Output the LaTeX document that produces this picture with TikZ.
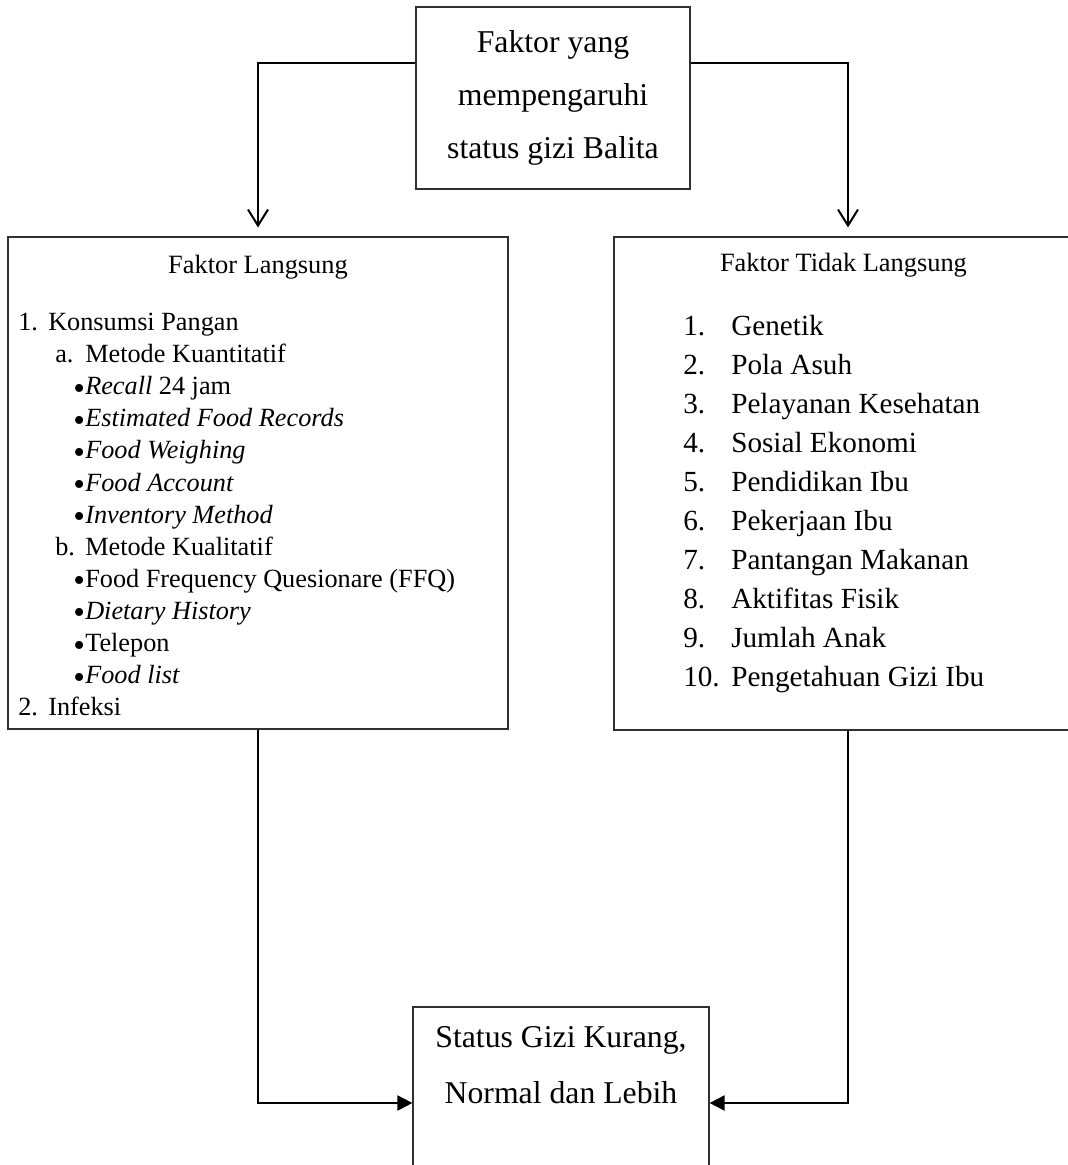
\documentclass[tikz,border=0pt]{standalone}
\usepackage{fontspec}
\setmainfont{Liberation Serif}
\usepackage{tikz}
\usetikzlibrary{arrows.meta,positioning}
\definecolor{GiziInk}{HTML}{000000}
\definecolor{GiziRule}{HTML}{303030}
\newcommand{\bulat}{\makebox[9pt][l]{\raisebox{-3.4pt}[0pt][0pt]{\fontsize{25}{25}\selectfont\textbullet}}}

\begin{document}
\begin{tikzpicture}[x=0.75pt,y=-0.75pt]
    \tikzset{
      kotak/.style={draw=GiziRule, line width=.9pt, inner sep=0pt},
      judul/.style={anchor=base, font=\fontsize{19.8}{24}\selectfont, text=GiziInk},
      isi/.style={anchor=base west, inner sep=0pt, font=\fontsize{19.7}{24}\selectfont, text=GiziInk},
      butir/.style={anchor=base west, inner sep=0pt, font=\fontsize{21.9}{26}\selectfont, text=GiziInk},
      garis/.style={draw=GiziInk, line width=1.5pt},
      turun/.style={garis, -{Straight Barb[length=12pt,width=15pt]}, shorten >=6.75pt},
      masuk/.style={garis, -{Triangle[length=11.25pt,width=11.25pt]}}
    }
    \useasboundingbox (0,0) rectangle (1068,1165);
    % kotak utama
    \node[kotak, minimum width=205.5pt, minimum height=136.5pt, align=center,
      font=\fontsize{23.8}{40}\selectfont] (faktor) at (553,98)
      {Faktor yang\\mempengaruhi\\status gizi Balita};
    \node[kotak, minimum width=375pt, minimum height=369pt] (langsung) at (258,483) {};
    \node[kotak, minimum width=351pt, minimum height=369.75pt] (tidaklangsung) at (848,483.5) {};
    \node[kotak, minimum width=222pt, minimum height=144pt] (status) at (561,1103) {};
    % judul
    \node[judul] (jl) at (258,273.5) {Faktor Langsung};
    \node[judul] (jtl) at (843.5,271.5) {Faktor Tidak Langsung};
    % isi faktor langsung
    \foreach \px/\t [count=\i from 0] in {
        18/{\makebox[22.5pt][l]{1.}Konsumsi Pangan},
        55/{\makebox[22.5pt][l]{a.}Metode Kuantitatif},
        73/{\bulat\textit{Recall} 24 jam},
        73/{\bulat\textit{Estimated Food Records}},
        73/{\bulat\textit{Food Weighing}},
        73/{\bulat\textit{Food Account}},
        73/{\bulat\textit{Inventory Method}},
        55/{\makebox[22.5pt][l]{b.}Metode Kualitatif},
        73/{\bulat Food Frequency Quesionare (FFQ)},
        73/{\bulat\textit{Dietary History}},
        73/{\bulat Telepon},
        73/{\bulat\textit{Food list}},
        18/{\makebox[22.5pt][l]{2.}Infeksi}}
      \node[isi] (l\i) at (\px,330.5+32.1*\i) {\t};
    % isi faktor tidak langsung
    \foreach \t [count=\i] in {Genetik,Pola Asuh,Pelayanan Kesehatan,Sosial Ekonomi,
        Pendidikan Ibu,Pekerjaan Ibu,Pantangan Makanan,Aktifitas Fisik,Jumlah Anak,
        Pengetahuan Gizi Ibu}
      {
      \node[butir] (n\i) at (683,296.6+39*\i) {\i.};
      \node[butir] (t\i) at (731,296.6+39*\i) {\t};
      }
    % status gizi
    \node[anchor=base, font=\fontsize{23.8}{40}\selectfont] (sg1) at (561,1047.5) {Status Gizi Kurang,};
    \node[anchor=base, font=\fontsize{23.8}{40}\selectfont] (sg2) at (561,1103.5) {Normal dan Lebih};
    % panah
    \draw[turun] ([yshift=26.25pt]faktor.west) -| (langsung.north);
    \draw[turun] ([yshift=26.25pt]faktor.east) -| (tidaklangsung.north);
    \draw[masuk] (langsung.south) |- (status.west);
    \draw[masuk] (tidaklangsung.south) |- (status.east);
  \end{tikzpicture}
\end{document}
